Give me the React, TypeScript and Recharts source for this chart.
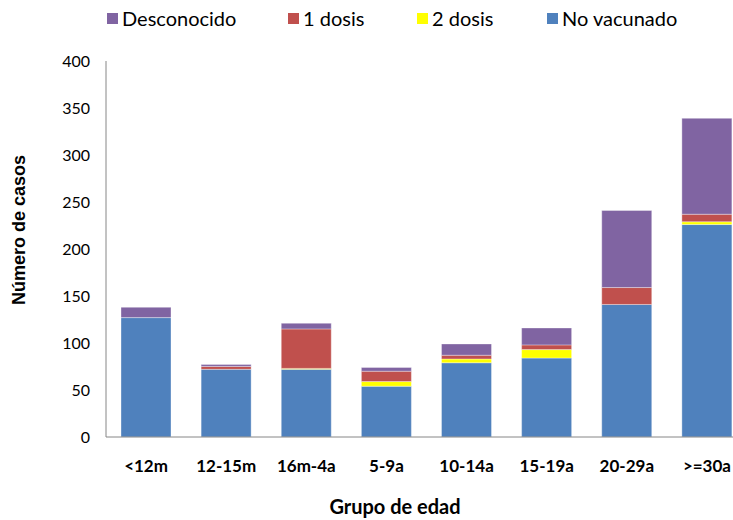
import React from 'react';
import { BarChart, Bar, XAxis, YAxis, Legend } from 'recharts';

const categories = ['<12m', '12-15m', '16m-4a', '5-9a', '10-14a', '15-19a', '20-29a', '>=30a'];
const noVacunado = [127, 72, 72, 54, 79, 84, 141, 226];
const dosDosis = [0, 0, 1, 5, 4, 9, 0, 3];
const unaDosis = [0, 3, 42, 11, 4, 5, 18, 8];
const desconocido = [11, 2, 6, 4, 12, 18, 82, 102];
const yTicks = [0, 50, 100, 150, 200, 250, 300, 350, 400];

const SERIES = [
  { key: 'noVacunado', name: 'No vacunado', color: '#4F81BD' },
  { key: 'dosDosis', name: '2 dosis', color: '#FFFF00' },
  { key: 'unaDosis', name: '1 dosis', color: '#C0504D' },
  { key: 'desconocido', name: 'Desconocido', color: '#8064A2' },
];

const data = categories.map((c, i) => ({
  grupo: c,
  noVacunado: noVacunado[i],
  dosDosis: dosDosis[i],
  unaDosis: unaDosis[i],
  desconocido: desconocido[i],
}));

const FONT = 'Lato, "Open Sans", sans-serif';
const LEGEND_WIDTHS = [181, 129, 130, 150];

const renderLegend = () => {
  const items = [...SERIES].reverse();
  return (
    <div style={{ display: 'flex', fontFamily: FONT, fontSize: 20, color: '#000', height: 24 }}>
      {items.map((s, i) => (
        <div key={s.key} style={{ width: LEGEND_WIDTHS[i], display: 'flex', alignItems: 'center' }}>
          <span style={{ width: 11, height: 11, background: s.color, marginRight: 4, display: 'inline-block' }} />
          <span>{s.name}</span>
        </div>
      ))}
    </div>
  );
};

export default function App() {
  return (
    <div style={{ position: 'absolute', left: 0, top: 0, width: 733, height: 520, overflow: 'hidden', background: '#fff' }}>
      <BarChart
        width={760}
        height={520}
        data={data}
        barSize={50}
        margin={{ top: 37, right: 13, left: 0, bottom: 0 }}
      >
        <Legend
          verticalAlign="top"
          content={renderLegend}
          wrapperStyle={{ top: 6, left: 107, width: 620 }}
        />
        <XAxis
          dataKey="grupo"
          height={83}
          axisLine={{ stroke: '#868686' }}
          tickLine={false}
          tickSize={0}
          tickMargin={23}
          interval={0}
          tick={{ fill: '#000', fontSize: 17, fontWeight: 700, fontFamily: FONT }}
          label={{
            content: () => (
              <text x={395} y={514} textAnchor="middle" fontFamily={FONT} fontWeight={700} fontSize={20} fill="#000">
                Grupo de edad
              </text>
            ),
          }}
        />
        <YAxis
          width={106}
          domain={[0, 400]}
          ticks={yTicks}
          interval={0}
          axisLine={{ stroke: '#868686' }}
          tickLine={false}
          tickSize={0}
          tickMargin={16}
          tick={{ fill: '#000', fontSize: 16, fontFamily: FONT }}
          label={{
            content: () => (
              <text
                x={25}
                y={230}
                transform="rotate(-90 25 230)"
                textAnchor="middle"
                fontFamily='"Liberation Sans", Arial, sans-serif'
                fontWeight={700}
                fontSize={18}
                fill="#000"
              >
                Número de casos
              </text>
            ),
          }}
        />
        {SERIES.map((s) => (
          <Bar
            key={s.key}
            dataKey={s.key}
            name={s.name}
            stackId="a"
            fill={s.color}
            stroke="rgba(255,255,255,0.35)"
            strokeWidth={1}
            isAnimationActive={false}
          />
        ))}
      </BarChart>
    </div>
  );
}
